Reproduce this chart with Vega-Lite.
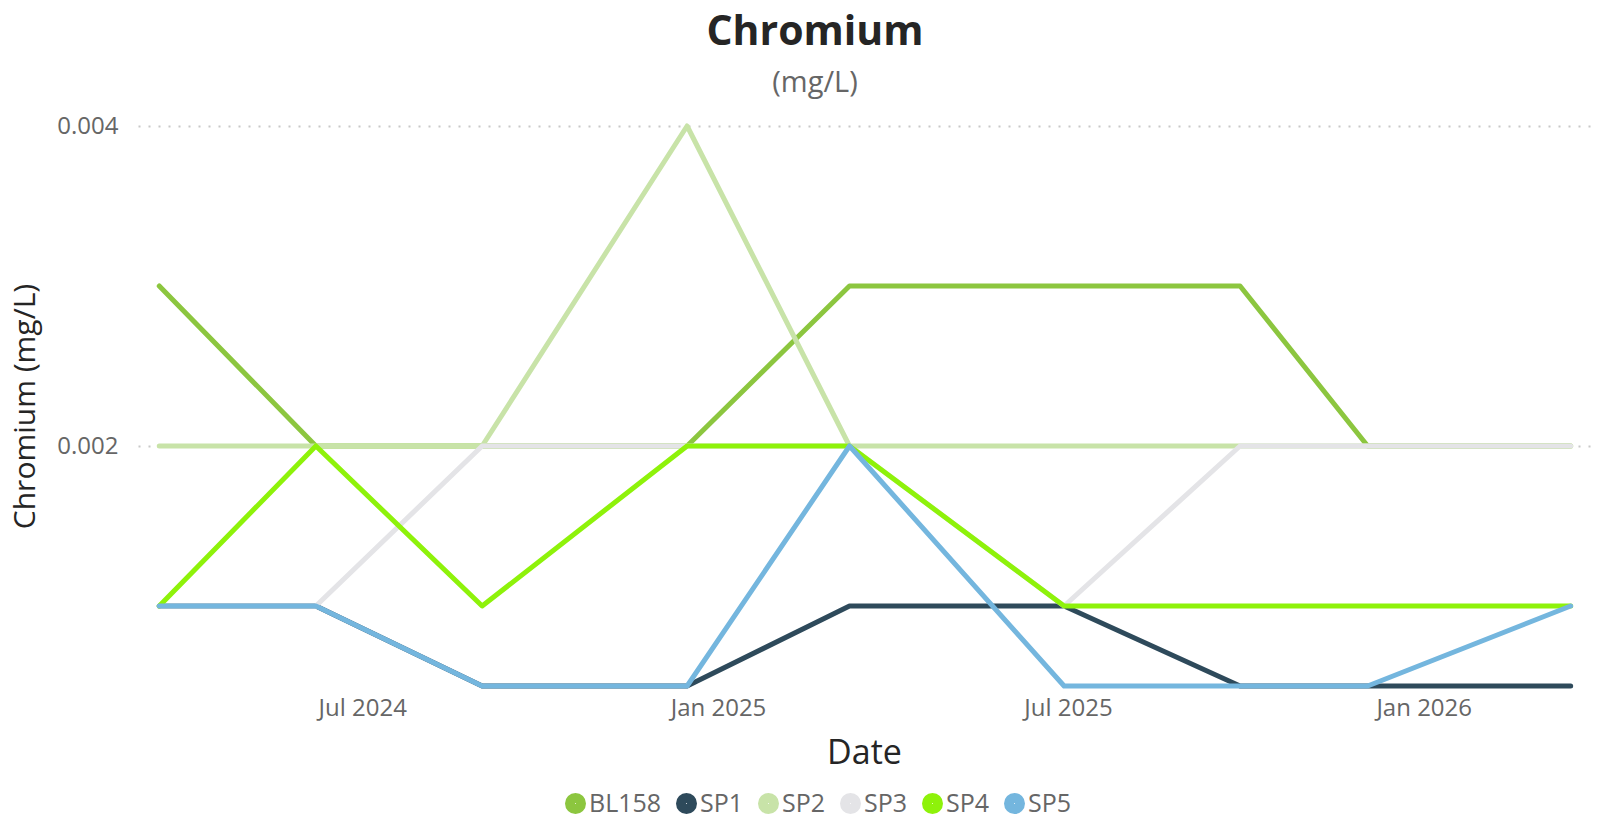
{
  "$schema": "https://vega.github.io/schema/vega-lite/v6.json",
  "autosize": {"type": "none"},
  "width": 1452,
  "height": 560,
  "padding": {"left": 138, "top": 126, "right": 12, "bottom": 132},
  "background": "white",
  "config": {
    "font": "Open Sans",
    "view": {"stroke": null},
    "title": {"font": "Open Sans", "fontSize": 41, "fontWeight": "bold", "color": "#252525", "subtitleFont": "Open Sans", "subtitleFontSize": 29, "subtitleColor": "#666666", "subtitlePadding": 15}
  },
  "title": {"text": "Chromium", "subtitle": "(mg/L)", "anchor": "middle", "dx": -49, "offset": 15},
  "data": {
    "values": [
      {"Date": "2024-03-18", "Site": "BL158", "Value": 0.003},
      {"Date": "2024-06-07", "Site": "BL158", "Value": 0.002},
      {"Date": "2024-09-01", "Site": "BL158", "Value": 0.002},
      {"Date": "2024-12-16", "Site": "BL158", "Value": 0.002},
      {"Date": "2025-03-10", "Site": "BL158", "Value": 0.003},
      {"Date": "2025-06-29", "Site": "BL158", "Value": 0.003},
      {"Date": "2025-09-28", "Site": "BL158", "Value": 0.003},
      {"Date": "2025-12-03", "Site": "BL158", "Value": 0.002},
      {"Date": "2026-03-18", "Site": "BL158", "Value": 0.002},
      {"Date": "2024-03-18", "Site": "SP1", "Value": 0.001},
      {"Date": "2024-06-07", "Site": "SP1", "Value": 0.001},
      {"Date": "2024-09-01", "Site": "SP1", "Value": 0.0005},
      {"Date": "2024-12-16", "Site": "SP1", "Value": 0.0005},
      {"Date": "2025-03-10", "Site": "SP1", "Value": 0.001},
      {"Date": "2025-06-29", "Site": "SP1", "Value": 0.001},
      {"Date": "2025-09-28", "Site": "SP1", "Value": 0.0005},
      {"Date": "2025-12-03", "Site": "SP1", "Value": 0.0005},
      {"Date": "2026-03-18", "Site": "SP1", "Value": 0.0005},
      {"Date": "2024-03-18", "Site": "SP2", "Value": 0.002},
      {"Date": "2024-06-07", "Site": "SP2", "Value": 0.002},
      {"Date": "2024-09-01", "Site": "SP2", "Value": 0.002},
      {"Date": "2024-12-16", "Site": "SP2", "Value": 0.004},
      {"Date": "2025-03-10", "Site": "SP2", "Value": 0.002},
      {"Date": "2025-06-29", "Site": "SP2", "Value": 0.002},
      {"Date": "2025-09-28", "Site": "SP2", "Value": 0.002},
      {"Date": "2025-12-03", "Site": "SP2", "Value": 0.002},
      {"Date": "2026-03-18", "Site": "SP2", "Value": 0.002},
      {"Date": "2024-03-18", "Site": "SP3", "Value": 0.001},
      {"Date": "2024-06-07", "Site": "SP3", "Value": 0.001},
      {"Date": "2024-09-01", "Site": "SP3", "Value": 0.002},
      {"Date": "2024-12-16", "Site": "SP3", "Value": 0.002},
      {"Date": "2025-03-10", "Site": "SP3", "Value": 0.002},
      {"Date": "2025-06-29", "Site": "SP3", "Value": 0.001},
      {"Date": "2025-09-28", "Site": "SP3", "Value": 0.002},
      {"Date": "2025-12-03", "Site": "SP3", "Value": 0.002},
      {"Date": "2026-03-18", "Site": "SP3", "Value": 0.002},
      {"Date": "2024-03-18", "Site": "SP4", "Value": 0.001},
      {"Date": "2024-06-07", "Site": "SP4", "Value": 0.002},
      {"Date": "2024-09-01", "Site": "SP4", "Value": 0.001},
      {"Date": "2024-12-16", "Site": "SP4", "Value": 0.002},
      {"Date": "2025-03-10", "Site": "SP4", "Value": 0.002},
      {"Date": "2025-06-29", "Site": "SP4", "Value": 0.001},
      {"Date": "2025-09-28", "Site": "SP4", "Value": 0.001},
      {"Date": "2025-12-03", "Site": "SP4", "Value": 0.001},
      {"Date": "2026-03-18", "Site": "SP4", "Value": 0.001},
      {"Date": "2024-03-18", "Site": "SP5", "Value": 0.001},
      {"Date": "2024-06-07", "Site": "SP5", "Value": 0.001},
      {"Date": "2024-09-01", "Site": "SP5", "Value": 0.0005},
      {"Date": "2024-12-16", "Site": "SP5", "Value": 0.0005},
      {"Date": "2025-03-10", "Site": "SP5", "Value": 0.002},
      {"Date": "2025-06-29", "Site": "SP5", "Value": 0.0005},
      {"Date": "2025-09-28", "Site": "SP5", "Value": 0.0005},
      {"Date": "2025-12-03", "Site": "SP5", "Value": 0.0005},
      {"Date": "2026-03-18", "Site": "SP5", "Value": 0.001}
    ]
  },
  "mark": {"type": "line", "strokeWidth": 5, "strokeCap": "round", "strokeJoin": "round"},
  "encoding": {
    "x": {
      "field": "Date", "type": "temporal", "title": "Date",
      "scale": {"domain": ["2024-03-07", "2026-03-28"]},
      "axis": {
        "values": ["2024-07-01", "2025-01-01", "2025-07-01", "2026-01-01"],
        "format": "%b %Y", "grid": false, "domain": false, "ticks": false, "tickSize": 0,
        "labelFontSize": 24, "labelColor": "#666666", "labelPadding": 10,
        "titleFontSize": 34, "titleFontWeight": "normal", "titleColor": "#252525", "titlePadding": 16
      }
    },
    "y": {
      "field": "Value", "type": "quantitative", "title": "Chromium (mg/L)",
      "scale": {"domain": [0.0005, 0.004], "nice": false, "zero": false},
      "axis": {
        "values": [0.002, 0.004], "format": ".3f", "grid": true, "gridColor": "#c8c8c8", "gridDash": [2, 8], "gridWidth": 2,
        "domain": false, "ticks": false, "tickSize": 0,
        "labelFontSize": 24, "labelColor": "#666666", "labelPadding": 20,
        "titleFontSize": 30, "titleFontWeight": "normal", "titleColor": "#252525", "titlePadding": 16
      }
    },
    "color": {
      "field": "Site", "type": "nominal", "title": null,
      "scale": {
        "domain": ["BL158", "SP1", "SP2", "SP3", "SP4", "SP5"],
        "range": ["#8cc63f", "#2e4a5b", "#c8e3a8", "#e4e4e7", "#8ef20a", "#74b6de"]
      },
      "legend": {
        "orient": "none", "legendX": 425, "legendY": 665, "direction": "horizontal", "gridAlign": "none",
        "symbolType": "circle", "symbolSize": 121, "symbolStrokeWidth": 10, "symbolOpacity": 1,
        "labelFontSize": 25, "labelColor": "#666666", "labelOffset": 1, "columnPadding": -1
      }
    }
  }
}
